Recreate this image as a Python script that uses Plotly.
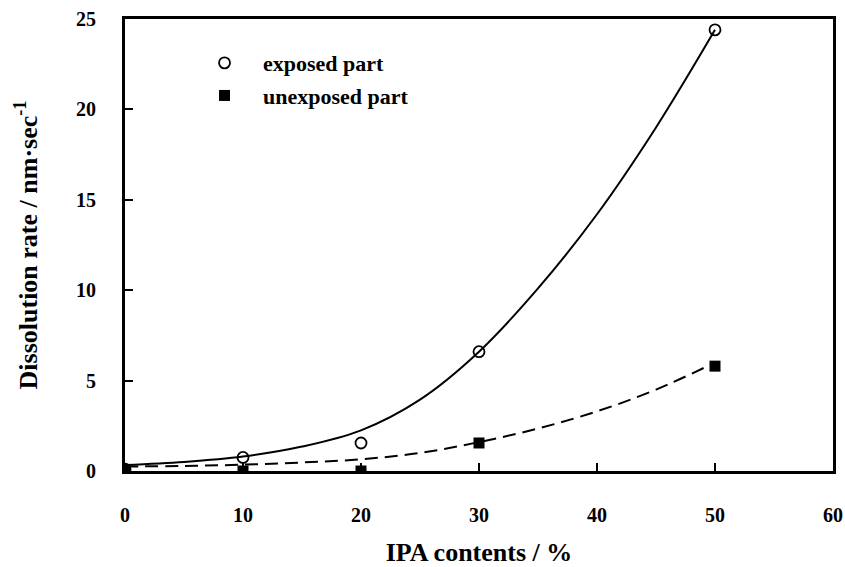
import plotly.graph_objects as go

ipa = [0, 10, 20, 30, 50]
exposed = [0.1, 0.75, 1.55, 6.6, 24.4]
unexposed = [0.0, 0.0, 0.0, 1.55, 5.8]

fit_x = [0, 5, 10, 15, 20, 25, 30, 35, 40, 45, 50]
exposed_fit = [0.33, 0.5, 0.8, 1.35, 2.25, 3.95, 6.6, 10.1, 14.2, 19.0, 24.4]
unexposed_fit = [0.25, 0.28, 0.35, 0.47, 0.65, 1.0, 1.6, 2.35, 3.3, 4.5, 6.0]

x_ticks = [0, 10, 20, 30, 40, 50, 60]
y_ticks = [0, 5, 10, 15, 20, 25]

FONT = "Liberation Serif"

fig = go.Figure()
fig.add_trace(go.Scatter(x=fit_x, y=exposed_fit, mode="lines", line=dict(color="black", width=2, shape="spline"),
                         showlegend=False, hoverinfo="skip"))
fig.add_trace(go.Scatter(x=fit_x, y=unexposed_fit, mode="lines",
                         line=dict(color="black", width=2, dash="13px,7px", shape="spline"),
                         showlegend=False, hoverinfo="skip"))
fig.add_trace(go.Scatter(x=ipa, y=exposed, mode="markers", name="<b>exposed part</b>", legendgroup="a",
                         marker=dict(symbol="circle-open", size=11, color="black", line=dict(width=1.8))))
fig.add_trace(go.Scatter(x=ipa, y=unexposed, mode="markers", name="<b>unexposed part</b>", legendgroup="b",
                         marker=dict(symbol="square", size=11, color="black")))

fig.update_layout(
    width=845, height=567,
    margin=dict(l=125, r=12, t=19, b=96),
    paper_bgcolor="white", plot_bgcolor="white",
    font=dict(family=FONT, color="black", size=20),
    legend=dict(x=0.0862, y=0.949, xanchor="left", yanchor="top", bgcolor="rgba(0,0,0,0)",
                font=dict(family=FONT, size=22, color="black"), itemwidth=67, tracegroupgap=1),
    xaxis=dict(range=[0, 60], tickvals=x_ticks, ticktext=[f"<b>{v}</b>" for v in x_ticks],
               ticks="inside", ticklen=8, tickwidth=2, tickcolor="black",
               showline=True, linecolor="black", linewidth=3, mirror=True,
               showgrid=False, zeroline=False, ticklabelstandoff=24, automargin=False,
               tickfont=dict(family=FONT, size=20),
               title=dict(text="<b>IPA contents / %</b>", font=dict(family=FONT, size=26), standoff=20)),
    yaxis=dict(range=[0, 25], tickvals=y_ticks, ticktext=[f"<b>{v}</b>" for v in y_ticks],
               ticks="inside", ticklen=8, tickwidth=2, tickcolor="black",
               showline=True, linecolor="black", linewidth=3, mirror=True,
               showgrid=False, zeroline=False, ticklabelstandoff=22, automargin=False,
               tickfont=dict(family=FONT, size=20),
               title=dict(text="<b>Dissolution rate / nm·sec<sup>-1</sup></b>", font=dict(family=FONT, size=26), standoff=31)),
)

fig.write_html("out.html")
